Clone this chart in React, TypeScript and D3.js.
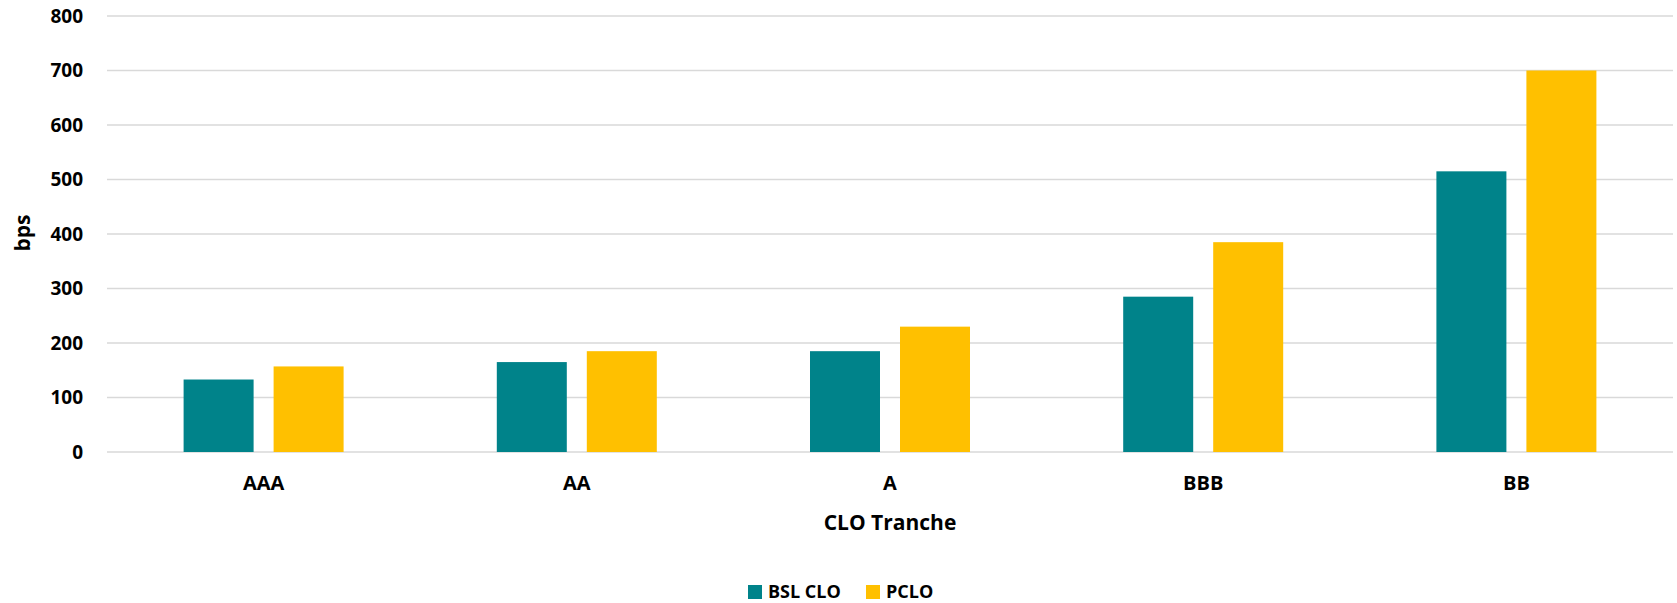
import React, { useEffect, useRef } from 'react';
import * as d3 from 'd3';

const categories = ['AAA', 'AA', 'A', 'BBB', 'BB'];
const bslClo = [133, 165, 185, 285, 515];
const pclo = [157, 185, 230, 385, 700];
const seriesNames = ['BSL CLO', 'PCLO'];
const seriesColors = ['#00838A', '#FFC000'];
const yTicks = [0, 100, 200, 300, 400, 500, 600, 700, 800];

const FONT = '"Open Sans", "Liberation Sans", sans-serif';

const App: React.FC = () => {
  const svgRef = useRef<SVGSVGElement>(null);

  useEffect(() => {
    if (!svgRef.current) return;
    const svg = d3.select(svgRef.current);
    svg.selectAll('*').remove();

    const width = 1677;
    const height = 603;
    const margin = { top: 16, right: 4, bottom: 151, left: 107 };
    const innerW = width - margin.left - margin.right;
    const innerH = height - margin.top - margin.bottom;

    const g = svg.append('g').attr('transform', `translate(${margin.left},${margin.top})`);

    const x = d3.scaleBand<string>().domain(categories).range([0, innerW]);
    const y = d3.scaleLinear().domain([0, 800]).range([innerH, 0]);

    // Grid lines
    g.append('g')
      .selectAll('line')
      .data(yTicks)
      .enter()
      .append('line')
      .attr('x1', 0)
      .attr('x2', innerW)
      .attr('y1', d => y(d))
      .attr('y2', d => y(d))
      .attr('stroke', '#d9d9d9')
      .attr('stroke-width', 1.5);

    // Y tick labels
    g.append('g')
      .selectAll('text')
      .data(yTicks)
      .enter()
      .append('text')
      .attr('x', -24)
      .attr('y', d => y(d))
      .attr('dy', '0.35em')
      .attr('text-anchor', 'end')
      .attr('font-family', FONT)
      .attr('font-weight', 'bold')
      .attr('font-size', 19)
      .attr('fill', '#000')
      .text(d => String(d));

    // Bars
    const barW = 70;
    const gap = 20;
    const series = [bslClo, pclo];
    series.forEach((vals, si) => {
      g.append('g')
        .selectAll('rect')
        .data(vals)
        .enter()
        .append('rect')
        .attr('x', (_, i) => (x(categories[i]) as number) + x.bandwidth() / 2 - barW - gap / 2 + si * (barW + gap))
        .attr('y', d => y(d))
        .attr('width', barW)
        .attr('height', d => innerH - y(d))
        .attr('fill', seriesColors[si]);
    });

    // X category labels
    g.append('g')
      .selectAll('text')
      .data(categories)
      .enter()
      .append('text')
      .attr('x', d => (x(d) as number) + x.bandwidth() / 2)
      .attr('y', innerH + 31)
      .attr('dy', '0.35em')
      .attr('text-anchor', 'middle')
      .attr('font-family', FONT)
      .attr('font-weight', 'bold')
      .attr('font-size', 20)
      .attr('fill', '#000')
      .text(d => d);

    // Axis titles
    svg.append('text')
      .attr('x', margin.left + innerW / 2)
      .attr('y', 523)
      .attr('dy', '0.35em')
      .attr('text-anchor', 'middle')
      .attr('font-family', FONT)
      .attr('font-weight', 'bold')
      .attr('font-size', 21)
      .text('CLO Tranche');

    svg.append('text')
      .attr('transform', 'translate(23,233) rotate(-90)')
      .attr('dy', '0.35em')
      .attr('text-anchor', 'middle')
      .attr('font-family', FONT)
      .attr('font-weight', 'bold')
      .attr('font-size', 21)
      .text('bps');

    // Legend
    const legend = svg.append('g').attr('transform', 'translate(748,592)');
    const legendX = [0, 118];
    seriesNames.forEach((name, i) => {
      legend.append('rect')
        .attr('x', legendX[i])
        .attr('y', -7)
        .attr('width', 14)
        .attr('height', 14)
        .attr('fill', seriesColors[i]);
      legend.append('text')
        .attr('x', legendX[i] + 20)
        .attr('y', 0)
        .attr('dy', '0.35em')
        .attr('font-family', FONT)
        .attr('font-weight', 'bold')
        .attr('font-size', 18)
        .text(name);
    });
  }, []);

  return (
    <svg
      ref={svgRef}
      width={1677}
      height={603}
      style={{ position: 'absolute', left: 0, top: 0, background: '#fff' }}
    />
  );
};

export default App;
